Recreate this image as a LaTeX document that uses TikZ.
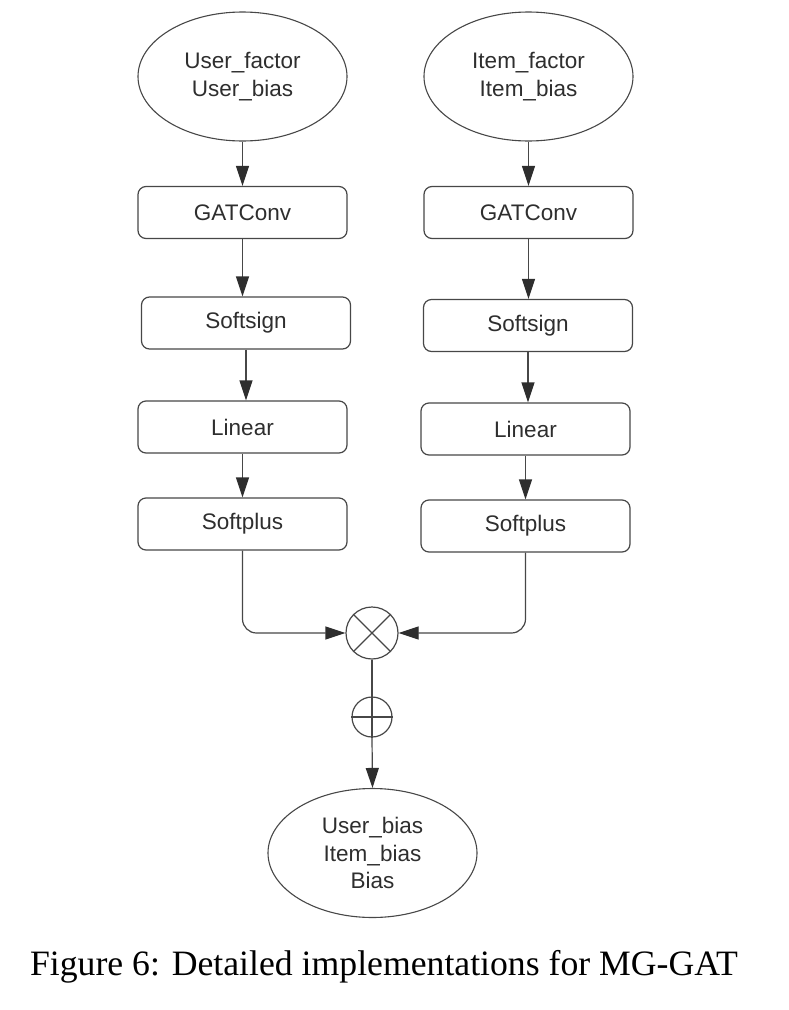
\documentclass[tikz,border=0pt]{standalone}
\usepackage{fontspec}
\setmainfont{Liberation Serif}
\newfontfamily\diagfont{Liberation Sans}
\usetikzlibrary{shapes.geometric,arrows.meta}
\definecolor{inkline}{HTML}{474747}
\definecolor{inktext}{HTML}{2E2E2E}
\tikzset{
  every node/.style={text=inktext},
  stagebox/.style={draw=inkline, line width=1.2pt, rounded corners=8pt,
    minimum width=209pt, minimum height=52pt, inner sep=0pt,
    font=\diagfont\fontsize{22.5}{27}\selectfont},
  datanode/.style={ellipse, draw=inkline, line width=1.1pt,
    minimum width=209pt, minimum height=129pt, inner sep=0pt, align=center,
    font=\diagfont\fontsize{22.5}{27.5}\selectfont},
  opnode/.style={circle, draw=inkline, line width=1.2pt, inner sep=0pt},
  link/.style={draw=inkline, line width=1.2pt},
  arr/.style={link, -{Triangle[length=20pt,width=13pt,color=inktext]}},
}
\begin{document}
\begin{tikzpicture}[x=1pt,y=-1pt]
\useasboundingbox (0,0) rectangle (788,1010);

% user branch
\node[datanode] (uin) at (242.5,76.5) {User\_factor\\User\_bias};
\node[stagebox] (ug) at (242.5,212.5) {GATConv};
\node[stagebox] (us) at (246,323) {Softsign};
\node[stagebox] (ul) at (242.5,427) {Linear};
\node[stagebox] (up) at (242.5,524) {Softplus};

% item branch
\node[datanode] (iin) at (528.5,76.5) {Item\_factor\\Item\_bias};
\node[stagebox] (ig) at (528.5,212.5) {GATConv};
\node[stagebox] (is) at (528,325.5) {Softsign};
\node[stagebox] (il) at (525.5,429) {Linear};
\node[stagebox] (ip) at (525.5,526) {Softplus};

% combination
\node[opnode, minimum size=52pt] (mul) at (372,633) {};
\draw[link] (mul.north west) -- (mul.south east)
            (mul.north east) -- (mul.south west);
\node[opnode, minimum size=40pt] (add) at (372,717) {};
\draw[link] (add.west) -- (add.east);

\node[datanode] (out) at (372.5,853) {User\_bias\\Item\_bias\\Bias};

% vertical flow in each branch
\draw[arr] (uin.south) -- (uin.south |- ug.north);
\draw[arr] (ug.south) -- (ug.south |- us.north);
\draw[arr] (us.south) -- (us.south |- ul.north);
\draw[arr] (ul.south) -- (ul.south |- up.north);

\draw[arr] (iin.south) -- (iin.south |- ig.north);
\draw[arr] (ig.south) -- (ig.south |- is.north);
\draw[arr] (is.south) -- (is.south |- il.north);
\draw[arr] (il.south) -- (il.south |- ip.north);

% merge into the product and on to the output
\draw[arr, rounded corners=14pt] (up.south) |- (mul.west);
\draw[arr, rounded corners=14pt] (ip.south) |- (mul.east);
\draw[link] (mul.south) -- (add.north) -- (add.south);
\draw[arr] (add.south) -- (out.north);

% caption
\node[anchor=base, text=black, font=\fontsize{35.7}{40}\selectfont] (cap) at (384,975)
  {Figure 6: Detailed implementations for MG-GAT};
\end{tikzpicture}
\end{document}
